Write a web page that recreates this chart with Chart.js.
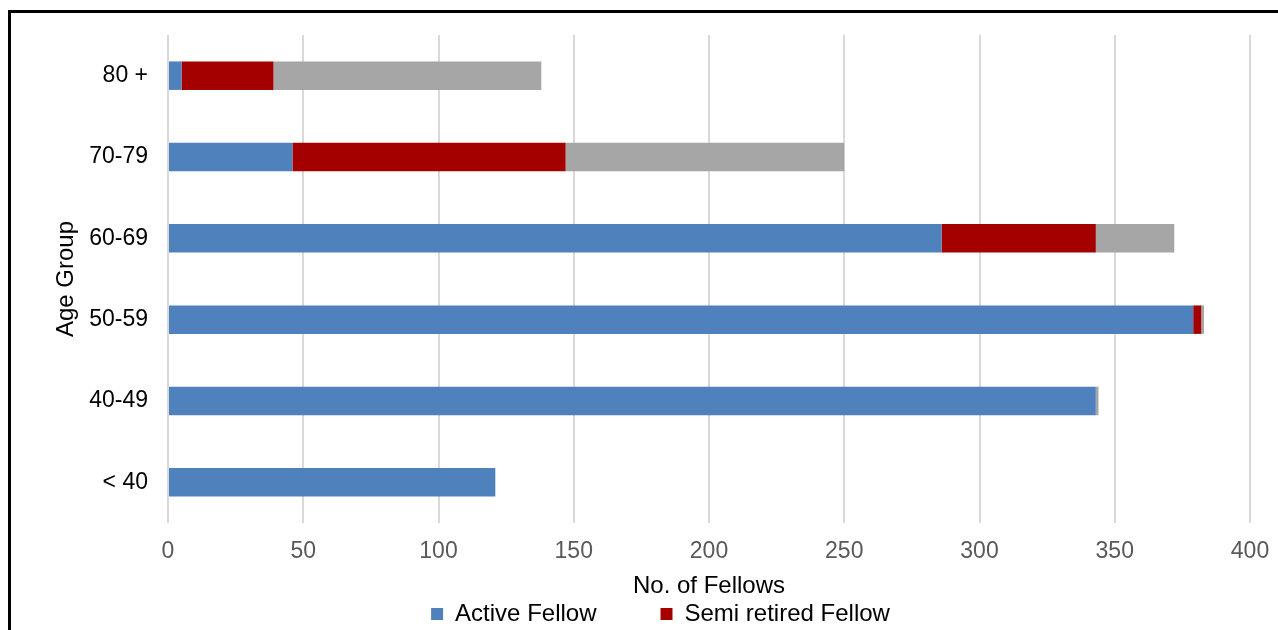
<!DOCTYPE html>
<html>
<head>
<meta charset="utf-8">
<script src="https://cdn.jsdelivr.net/npm/chart.js@4.4.1/dist/chart.umd.min.js"></script>
<style>
  body { margin: 0; background: #fff; }
  #wrap { position: relative; width: 1278px; height: 630px; }
  #frame { position: absolute; left: 8px; top: 10px; right: 0; bottom: 0;
           border-left: 3px solid #000; border-top: 3px solid #000; pointer-events: none; }
</style>
</head>
<body>
<div id="wrap">
  <canvas id="myChart" width="1278" height="630"></canvas>
  <div id="frame"></div>
</div>
<script>
const ageGroups = ['80 +', '70-79', '60-69', '50-59', '40-49', '< 40'];
const activeFellow = [5, 46, 286, 379, 343, 121];
const semiRetiredFellow = [34, 101, 57, 3, 0, 0];
const retiredFellow = [99, 103, 29, 1, 1, 0];
const xTicks = [0, 50, 100, 150, 200, 250, 300, 350, 400];

const font = 'Liberation Sans, Arial, sans-serif';

// legenda: alleen de eerste twee reeksen, met wat extra ruimte tussen de items
function legendLabels(chart) {
    const items = Chart.defaults.plugins.legend.labels.generateLabels(chart);
    return items
        .filter(item => item.datasetIndex < 2)
        .map(item => {
            if (item.datasetIndex === 0) item.text = item.text + '         ';
            return item;
        });
}

function renderChart() {
    const ctx = document.getElementById('myChart').getContext('2d');

    const chartData = {
        labels: ageGroups,
        datasets: [
            { label: 'Active Fellow', data: activeFellow, backgroundColor: '#4F81BD' },
            { label: 'Semi retired Fellow', data: semiRetiredFellow, backgroundColor: '#A50000' },
            { label: 'Retired Fellow', data: retiredFellow, backgroundColor: '#A6A6A6' },
        ],
    };

    new Chart(ctx, {
        type: 'bar',
        data: chartData,
        options: {
            indexAxis: 'y',
            responsive: false,
            animation: false,
            datasets: { bar: { categoryPercentage: 1, barPercentage: 0.35 } },
            layout: { padding: { left: 52, right: 9, top: 35, bottom: 0 } },
            plugins: {
                tooltip: { enabled: false },
                legend: {
                    position: 'bottom',
                    maxHeight: 32,
                    labels: {
                        color: '#000',
                        font: { family: font, size: 24, lineHeight: 1 },
                        boxWidth: 12,
                        boxHeight: 12,
                        padding: 4,
                        generateLabels: legendLabels,
                    },
                },
            },
            scales: {
                x: {
                    stacked: true,
                    min: 0,
                    max: 400,
                    afterBuildTicks: scale => { scale.ticks = xTicks.map(v => ({ value: v })); },
                    afterFit: scale => {
                        scale.height = 75;
                        scale.paddingRight = 28;
                    },
                    grid: { color: '#D9D9D9', lineWidth: 2, drawTicks: false },
                    border: { display: false },
                    ticks: { color: '#595959', font: { family: font, size: 23 }, padding: 15 },
                    title: {
                        display: true,
                        text: 'No. of Fellows',
                        color: '#000',
                        font: { family: font, size: 24, lineHeight: 1 },
                        padding: { top: 9, bottom: 0 },
                    },
                },
                y: {
                    stacked: true,
                    grid: { display: false },
                    border: { display: false },
                    ticks: { color: '#000', font: { family: font, size: 23 }, padding: 12 },
                    title: {
                        display: true,
                        text: 'Age Group',
                        color: '#000',
                        font: { family: font, size: 24 },
                        padding: 0,
                    },
                    afterFit: scale => { scale.width = 168 - 52; },
                },
            },
        },
    });
}

renderChart();
</script>
</body>
</html>
